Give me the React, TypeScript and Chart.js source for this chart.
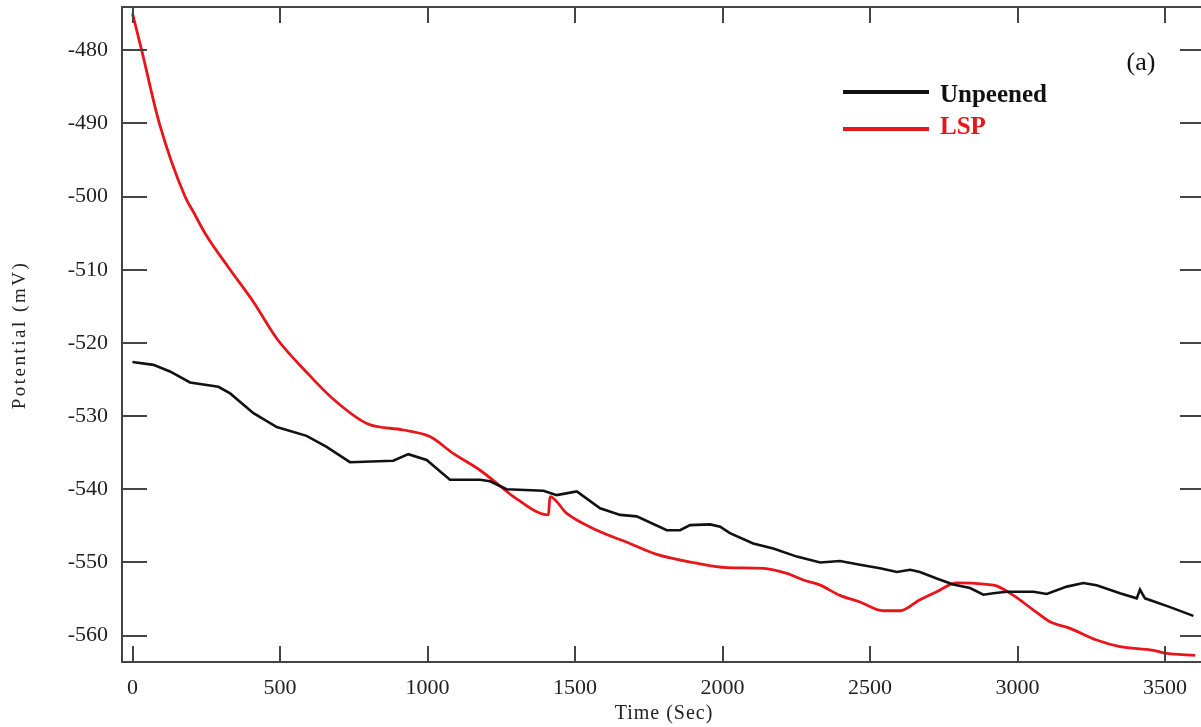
import React, { useEffect, useRef } from "react";
import { Chart, registerables } from "chart.js";

Chart.register(...registerables);

const xTickValues = [0, 500, 1000, 1500, 2000, 2500, 3000, 3500];
const yTickValues = [-480, -490, -500, -510, -520, -530, -540, -550, -560];

const seriesNames = ["Unpeened", "LSP"];
const panelLabel = "(a)";
const xAxisTitle = "Time (Sec)";
const yAxisTitle = "Potential (mV)";

const unpeenedTime = [
  0, 71, 127, 195, 291, 331, 410, 489, 590, 658, 737, 884, 935, 997, 1076, 1178, 1212, 1268,
  1393, 1438, 1506, 1585, 1653, 1709, 1811, 1856, 1890, 1958, 1992, 2025, 2104, 2172, 2252,
  2331, 2398, 2466, 2534, 2591, 2636, 2669, 2726, 2782, 2839, 2884, 2918, 2963, 3054, 3099,
  3167, 3223, 3268, 3347, 3404, 3415, 3432, 3517, 3596,
];
const unpeenedPotential = [
  -522.6, -523.0, -523.9, -525.4, -526.0, -526.9, -529.6, -531.5, -532.7, -534.2, -536.3, -536.1,
  -535.2, -536.0, -538.7, -538.7, -538.9, -540.0, -540.2, -540.8, -540.3, -542.6, -543.5, -543.7,
  -545.6, -545.6, -544.9, -544.8, -545.1, -546.0, -547.4, -548.1, -549.2, -550.0, -549.8, -550.3,
  -550.8, -551.3, -551.0, -551.3, -552.2, -553.0, -553.5, -554.4, -554.2, -554.0, -554.0, -554.3,
  -553.3, -552.8, -553.1, -554.2, -554.9, -553.7, -554.9, -556.1, -557.3,
];

const lspTime = [
  0, 31, 91, 178, 205, 250, 331, 410, 489, 590, 681, 794, 918, 1008, 1087, 1178, 1257, 1291,
  1410, 1415, 1472, 1574, 1686, 1777, 1912, 2014, 2138, 2218, 2274, 2331, 2398, 2466, 2545,
  2602, 2669, 2726, 2794, 2896, 2929, 2986, 3054, 3110, 3178, 3268, 3347, 3460, 3500, 3602,
];
const lspPotential = [
  -475.0, -480.0, -490.0, -500.0, -502.0, -505.3, -510.0, -514.4, -519.4, -524.0, -527.7, -531.0,
  -531.9, -532.8, -535.1, -537.4, -539.9, -541.0, -543.5, -541.0, -543.3, -545.6, -547.4, -548.9,
  -550.1, -550.7, -550.8, -551.5, -552.4, -553.1, -554.5, -555.4, -556.6, -556.6, -555.1, -554.0,
  -552.8, -553.0, -553.2, -554.5, -556.5, -558.1, -559.0, -560.6, -561.5, -562.0, -562.4, -562.7,
];

const SERIF = '"Liberation Serif", "Times New Roman", serif';
const BLACK = "#111111";
const RED = "#e8151b";
const AXIS = "#444444";

const framePlugin = {
  id: "frame",
  afterDatasetsDraw(chart: any) {
    const { ctx, chartArea: a, scales } = chart;
    const xs = scales.x;
    const ys = scales.y;
    ctx.save();
    ctx.strokeStyle = AXIS;
    ctx.lineWidth = 2;
    ctx.strokeRect(a.left, a.top, a.right - a.left, a.bottom - a.top);
    ctx.beginPath();
    for (const v of xTickValues) {
      const p = Math.round(xs.getPixelForValue(v));
      ctx.moveTo(p, a.bottom);
      ctx.lineTo(p, a.bottom - 16);
      ctx.moveTo(p, a.top);
      ctx.lineTo(p, a.top + 16);
    }
    for (const v of yTickValues) {
      const p = Math.round(ys.getPixelForValue(v));
      ctx.moveTo(a.left, p);
      ctx.lineTo(a.left + 25, p);
      ctx.moveTo(a.right, p);
      ctx.lineTo(a.right - 24, p);
    }
    ctx.stroke();

    // legend
    ctx.lineWidth = 4;
    ctx.strokeStyle = BLACK;
    ctx.beginPath();
    ctx.moveTo(843, 92);
    ctx.lineTo(929, 92);
    ctx.stroke();
    ctx.strokeStyle = RED;
    ctx.beginPath();
    ctx.moveTo(843, 129);
    ctx.lineTo(929, 129);
    ctx.stroke();
    ctx.font = `bold 25px ${SERIF}`;
    ctx.textAlign = "left";
    ctx.textBaseline = "middle";
    ctx.fillStyle = BLACK;
    ctx.fillText(seriesNames[0], 940, 96);
    ctx.fillStyle = RED;
    ctx.fillText(seriesNames[1], 940, 128);

    // panel label
    ctx.fillStyle = "#111";
    ctx.font = `26px ${SERIF}`;
    ctx.textAlign = "center";
    ctx.fillText(panelLabel, 1141, 63);

    // axis titles
    ctx.fillStyle = "#222";
    (ctx as any).letterSpacing = "1px";
    ctx.font = `20px ${SERIF}`;
    ctx.textAlign = "center";
    ctx.textBaseline = "middle";
    ctx.fillText(xAxisTitle, 664, 714);

    ctx.translate(25, 335);
    ctx.rotate(-Math.PI / 2);
    (ctx as any).letterSpacing = "2.5px";
    ctx.font = `19px ${SERIF}`;
    ctx.textBaseline = "alphabetic";
    ctx.fillText(yAxisTitle, 0, 0);
    ctx.restore();
  },
};

export default function App() {
  const canvasRef = useRef<HTMLCanvasElement | null>(null);

  useEffect(() => {
    const canvas = canvasRef.current;
    if (!canvas) return;
    const unpeened = unpeenedTime.map((t, i) => ({ x: t, y: unpeenedPotential[i] }));
    const lsp = lspTime.map((t, i) => ({ x: t, y: lspPotential[i] }));
    const chart = new Chart(canvas, {
      type: "line",
      data: {
        datasets: [
          {
            label: seriesNames[0],
            data: unpeened,
            borderColor: BLACK,
            borderWidth: 2.6,
            pointRadius: 0,
            tension: 0,
          },
          {
            label: seriesNames[1],
            data: lsp,
            borderColor: RED,
            borderWidth: 2.8,
            pointRadius: 0,
            cubicInterpolationMode: "monotone",
          },
        ],
      },
      options: {
        animation: false,
        responsive: false,
        devicePixelRatio: 1,
        layout: { padding: { left: 0, top: 7, right: 6, bottom: 0 } },
        plugins: { legend: { display: false }, tooltip: { enabled: false } },
        scales: {
          x: {
            type: "linear",
            min: -35.6,
            max: 3632,
            grid: { display: false, drawTicks: false },
            border: { display: false },
            afterBuildTicks: (s: any) => {
              s.ticks = xTickValues.map((v) => ({ value: v }));
            },
            afterFit: (s: any) => {
              s.height = 65;
              s.paddingLeft = 0;
              s.paddingRight = 0;
            },
            ticks: {
              autoSkip: false,
              maxRotation: 0,
              padding: 13,
              color: "#222",
              font: { family: SERIF, size: 22 },
              callback: (v: any) => String(v),
            },
          },
          y: {
            type: "linear",
            min: -563.6,
            max: -474.1,
            grid: { display: false, drawTicks: false },
            border: { display: false },
            afterBuildTicks: (s: any) => {
              s.ticks = yTickValues.map((v) => ({ value: v }));
            },
            afterFit: (s: any) => {
              s.width = 122;
              s.paddingTop = 0;
              s.paddingBottom = 0;
            },
            ticks: {
              autoSkip: false,
              padding: 14,
              color: "#222",
              font: { family: SERIF, size: 22 },
              callback: (v: any) => String(v),
            },
          },
        },
      },
      plugins: [framePlugin],
    });
    return () => chart.destroy();
  }, []);

  return (
    <div
      style={{
        position: "fixed",
        left: 0,
        top: 0,
        width: 1201,
        height: 727,
        overflow: "hidden",
        background: "#ffffff",
      }}
    >
      <canvas
        ref={canvasRef}
        width={1210}
        height={727}
        style={{ width: 1210, height: 727, display: "block" }}
      />
    </div>
  );
}
